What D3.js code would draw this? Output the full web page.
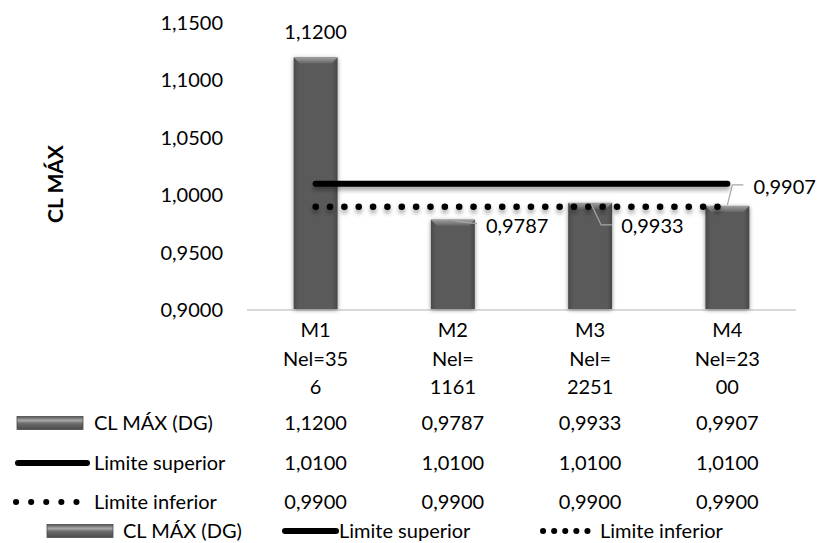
<!DOCTYPE html>
<html>
<head>
<meta charset="utf-8">
<script src="https://cdn.jsdelivr.net/npm/d3@7"></script>
<style>
  body { margin: 0; background: #fff; }
  text { font-family: Lato, "Open Sans", sans-serif; fill: #000; }
</style>
</head>
<body>
<svg id="chart"></svg>
<script>
var categories = ['M1', 'M2', 'M3', 'M4']
var catSub = [['Nel=35', '6'], ['Nel=', '1161'], ['Nel=', '2251'], ['Nel=23', '00']]
var clMax = [1.1200, 0.9787, 0.9933, 0.9907]
var limSup = [1.0100, 1.0100, 1.0100, 1.0100]
var limInf = [0.9900, 0.9900, 0.9900, 0.9900]
var yTicks = [0.90, 0.95, 1.00, 1.05, 1.10, 1.15]
var seriesNames = ['CL MÁX (DG)', 'Limite superior', 'Limite inferior']

var W = 819, H = 543
var plot = {left: 247, right: 796, top: 23, bottom: 310}
var fs = '20px'

var fmt = d3.formatLocale({decimal: ',', thousands: '.', grouping: [3], currency: ['', '']}).format('.4f')

var svg = d3.select('#chart').attr('width', W).attr('height', H)
var defs = svg.append('defs')

// bar gradient + shadows
var g1 = defs.append('linearGradient').attr('id', 'barGrad').attr('x1', 0).attr('x2', 1).attr('y1', 0).attr('y2', 0)
g1.append('stop').attr('offset', '0%').attr('stop-color', '#4a4a4a')
g1.append('stop').attr('offset', '12%').attr('stop-color', '#5a5a5a')
g1.append('stop').attr('offset', '88%').attr('stop-color', '#5a5a5a')
g1.append('stop').attr('offset', '100%').attr('stop-color', '#484848')

var g2 = defs.append('linearGradient').attr('id', 'bevelGrad').attr('x1', 0).attr('x2', 0).attr('y1', 0).attr('y2', 1)
g2.append('stop').attr('offset', '0%').attr('stop-color', '#a0a0a0')
g2.append('stop').attr('offset', '100%').attr('stop-color', '#666')

var g3 = defs.append('linearGradient').attr('id', 'legGrad').attr('x1', 0).attr('x2', 0).attr('y1', 0).attr('y2', 1)
g3.append('stop').attr('offset', '0%').attr('stop-color', '#555')
g3.append('stop').attr('offset', '30%').attr('stop-color', '#a8a8a8')
g3.append('stop').attr('offset', '55%').attr('stop-color', '#6a6a6a')
g3.append('stop').attr('offset', '100%').attr('stop-color', '#4a4a4a')

var f1 = defs.append('filter').attr('id', 'barShadow').attr('x', '-30%').attr('y', '-10%').attr('width', '160%').attr('height', '120%')
f1.append('feDropShadow').attr('dx', 0).attr('dy', 1).attr('stdDeviation', 2.2)
  .attr('flood-color', '#000').attr('flood-opacity', 0.45)

// horizontal lines have a zero-height bbox, so use user space for the region
var f2 = defs.append('filter').attr('id', 'lineShadow').attr('filterUnits', 'userSpaceOnUse')
  .attr('x', 0).attr('y', 0).attr('width', W).attr('height', H)
f2.append('feDropShadow').attr('dx', 0).attr('dy', 3.5).attr('stdDeviation', 2)
  .attr('flood-color', '#000').attr('flood-opacity', 0.35)

var x = d3.scaleBand()
  .domain(categories)
  .range([plot.left, plot.right])
  .paddingInner(0.68)
  .paddingOuter(0.34)

var cx = d => x(d) + x.bandwidth() / 2

var y = d3.scaleLinear()
  .domain([0.90, 1.15])
  .range([plot.bottom, plot.top])

// y tick labels (no axis line)
svg.append('g').selectAll('text')
  .data(yTicks)
  .enter()
  .append('text')
    .attr('x', 223)
    .attr('y', d => y(d))
    .attr('dy', '0.35em')
    .attr('text-anchor', 'end')
    .style('font-size', fs)
    .text(d => fmt(d))

// y title
svg.append('text')
  .attr('transform', 'translate(63,184) rotate(-90)')
  .attr('text-anchor', 'middle')
  .style('font-size', '21px')
  .style('font-weight', 'bold')
  .text('CL MÁX')

// x axis line
svg.append('line')
  .attr('x1', plot.left).attr('x2', plot.right)
  .attr('y1', plot.bottom).attr('y2', plot.bottom)
  .attr('stroke', '#d9d9d9').attr('stroke-width', 2)

// bars
var bev = 6
var bars = svg.append('g')
categories.forEach((c, i) => {
  var bx = x(c), bw = x.bandwidth(), by = y(clMax[i])
  bars.append('rect')
    .attr('x', bx).attr('y', by)
    .attr('width', bw).attr('height', y(0.90) - by - 1)
    .attr('fill', 'url(#barGrad)')
    .attr('filter', 'url(#barShadow)')
  bars.append('path')
    .attr('d', 'M' + bx + ',' + by + 'H' + (bx + bw) + 'L' + (bx + bw - bev) + ',' + (by + bev) + 'H' + (bx + bev) + 'Z')
    .attr('fill', 'url(#bevelGrad)')
})

// lines
var line = d3.line().x((d, i) => cx(categories[i])).y(d => y(d))

svg.append('path')
  .datum(limSup)
  .attr('d', line)
  .attr('fill', 'none')
  .attr('stroke', '#000')
  .attr('stroke-width', 6)
  .attr('stroke-linecap', 'round')
  .attr('filter', 'url(#lineShadow)')

svg.append('path')
  .datum(limInf)
  .attr('d', line)
  .attr('fill', 'none')
  .attr('stroke', '#000')
  .attr('stroke-width', 6.5)
  .attr('stroke-linecap', 'round')
  .attr('stroke-dasharray', '0.1 14.25')
  .attr('filter', 'url(#lineShadow)')

// data labels
var lab = svg.append('g').style('font-size', fs)
lab.append('text')
  .attr('x', cx('M1')).attr('y', y(clMax[0]) - 25)
  .attr('dy', '0.35em').attr('text-anchor', 'middle')
  .text(fmt(clMax[0]))

// leader points and text offset, relative to the bar's top centre
var lead = [
  null,
  {pts: [[0, 0], [6, 2], [24, 4]], t: [33, 6]},
  {pts: [[1, 1], [11, 22], [22, 22]], t: [31, 23]},
  {pts: [[0, -1], [5, -21], [16, -21]], t: [26, -19]}
]
for (var i = 1; i < 4; i++) {
  var bx0 = cx(categories[i]), by0 = y(clMax[i])
  lab.append('path')
    .attr('d', d3.line()(lead[i].pts.map(p => [bx0 + p[0], by0 + p[1]])))
    .attr('fill', 'none').attr('stroke', '#a6a6a6').attr('stroke-width', 1.2)
  lab.append('text')
    .attr('x', bx0 + lead[i].t[0]).attr('y', by0 + lead[i].t[1])
    .attr('dy', '0.35em')
    .text(fmt(clMax[i]))
}

// category labels
var cat = svg.append('g').style('font-size', fs).attr('text-anchor', 'middle')
categories.forEach((c, i) => {
  var lines = [c].concat(catSub[i])
  lines.forEach((t, j) => {
    cat.append('text').attr('x', cx(c)).attr('y', 337 + j * 28.5).text(t)
  })
})

// data table
var rows = [clMax, limSup, limInf]
var rowY = [423, 463, 502]
var tbl = svg.append('g').style('font-size', fs)
rows.forEach((r, k) => {
  r.forEach((v, i) => {
    tbl.append('text').attr('x', cx(categories[i])).attr('y', rowY[k]).attr('dy', '0.35em')
      .attr('text-anchor', 'middle').text(fmt(v))
  })
  tbl.append('text').attr('x', 94).attr('y', rowY[k]).attr('dy', '0.35em').text(seriesNames[k])
})

function barKey(g, x0, x1, yc) {
  g.append('rect').attr('x', x0).attr('y', yc - 6.5).attr('width', x1 - x0).attr('height', 13)
    .attr('fill', 'url(#legGrad)').attr('stroke', '#4a4a4a').attr('stroke-width', 0.8)
}
function solidKey(g, x0, x1, yc) {
  g.append('line').attr('x1', x0 + 3).attr('x2', x1 - 3).attr('y1', yc).attr('y2', yc)
    .attr('stroke', '#000').attr('stroke-width', 6).attr('stroke-linecap', 'round')
}
function dotKey(g, x0, x1, yc, step) {
  g.append('line').attr('x1', x0).attr('x2', x1).attr('y1', yc).attr('y2', yc)
    .attr('stroke', '#000').attr('stroke-width', 6).attr('stroke-linecap', 'round')
    .attr('stroke-dasharray', '0.1 ' + step)
}

barKey(tbl, 17, 83, rowY[0])
solidKey(tbl, 15, 90, rowY[1])
dotKey(tbl, 16, 78, rowY[2], 15)

// bottom legend
var leg = svg.append('g').style('font-size', fs)
var legY = 531
barKey(leg, 47, 113, legY)
leg.append('text').attr('x', 123).attr('y', legY).attr('dy', '0.35em').text(seriesNames[0])
solidKey(leg, 282, 339, legY)
leg.append('text').attr('x', 339).attr('y', legY).attr('dy', '0.35em').text(seriesNames[1])
dotKey(leg, 543, 589, legY, 11)
leg.append('text').attr('x', 600).attr('y', legY).attr('dy', '0.35em').text(seriesNames[2])
</script>
</body>
</html>
